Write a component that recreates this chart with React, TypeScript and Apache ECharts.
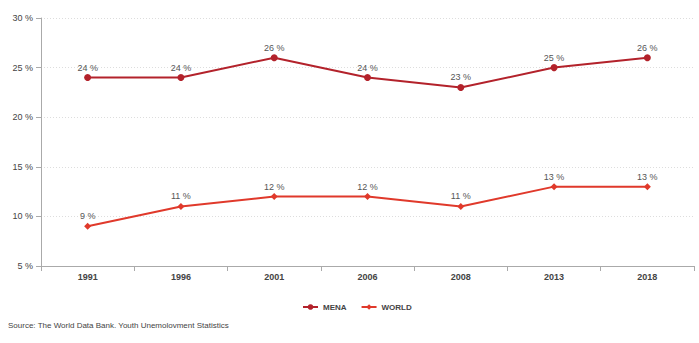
import React, { useEffect, useRef } from "react";
import * as echarts from "echarts";

const years = ["1991", "1996", "2001", "2006", "2008", "2013", "2018"];
const mena = [24, 24, 26, 24, 23, 25, 26];
const world = [9, 11, 12, 12, 11, 13, 13];
const yTicks = [5, 10, 15, 20, 25, 30];
const sourceText = "Source: The World Data Bank. Youth Unemolovment Statistics";

const FONT = "'Liberation Sans', Arial, sans-serif";

export default function App() {
  const ref = useRef<HTMLDivElement>(null);
  useEffect(() => {
    if (!ref.current) return;
    const chart = echarts.init(ref.current, null, { renderer: "svg" });
    chart.setOption({
      animation: false,
      textStyle: { fontFamily: FONT },
      grid: { left: 41, right: 5, top: 18, bottom: 77, containLabel: false },
      legend: {
        data: ["MENA", "WORLD"],
        left: 297,
        top: 298,
        itemWidth: 15,
        itemHeight: 7,
        itemGap: 14,
        textStyle: { fontSize: 8, fontWeight: "bold", color: "#444", fontFamily: FONT },
      },
      xAxis: {
        type: "category",
        data: years,
        boundaryGap: true,
        axisLine: { lineStyle: { color: "#aaa", width: 1 } },
        axisTick: { show: true, length: 5, lineStyle: { color: "#aaa" } },
        axisLabel: { fontSize: 9, color: "#444", fontWeight: "bold", margin: 6, fontFamily: FONT },
        splitLine: { show: false },
      },
      yAxis: {
        type: "value",
        min: yTicks[0],
        max: yTicks[yTicks.length - 1],
        interval: 5,
        axisLine: { show: true, lineStyle: { color: "#aaa", width: 1 } },
        axisTick: { show: true, length: 5, lineStyle: { color: "#aaa" } },
        axisLabel: { fontSize: 9, color: "#444", margin: 8, formatter: "{value} %", fontFamily: FONT },
        splitLine: { show: true, lineStyle: { color: "#ddd", type: [1, 2], width: 1 } },
      },
      series: [
        {
          name: "MENA",
          type: "line",
          data: mena,
          color: "#b3222b",
          symbol: "circle",
          symbolSize: 7,
          lineStyle: { width: 2, color: "#b3222b" },
          itemStyle: { color: "#b3222b" },
          label: {
            show: true,
            position: "top",
            distance: 2,
            formatter: "{c} %",
            fontSize: 9,
            color: "#555",
            fontFamily: FONT,
          },
        },
        {
          name: "WORLD",
          type: "line",
          data: world,
          color: "#e0392b",
          symbol: "diamond",
          symbolSize: 7,
          lineStyle: { width: 2, color: "#e0392b" },
          itemStyle: { color: "#e0392b" },
          label: {
            show: true,
            position: "top",
            distance: 2,
            formatter: "{c} %",
            fontSize: 9,
            color: "#555",
            fontFamily: FONT,
          },
        },
      ],
      graphic: [
        {
          type: "text",
          left: 8,
          top: 321,
          style: { text: sourceText, fontSize: 8, fill: "#444", fontFamily: FONT },
        },
      ],
    });
    return () => chart.dispose();
  }, []);
  return <div ref={ref} style={{ width: 699, height: 343, position: "absolute", left: 0, top: 0 }} />;
}
